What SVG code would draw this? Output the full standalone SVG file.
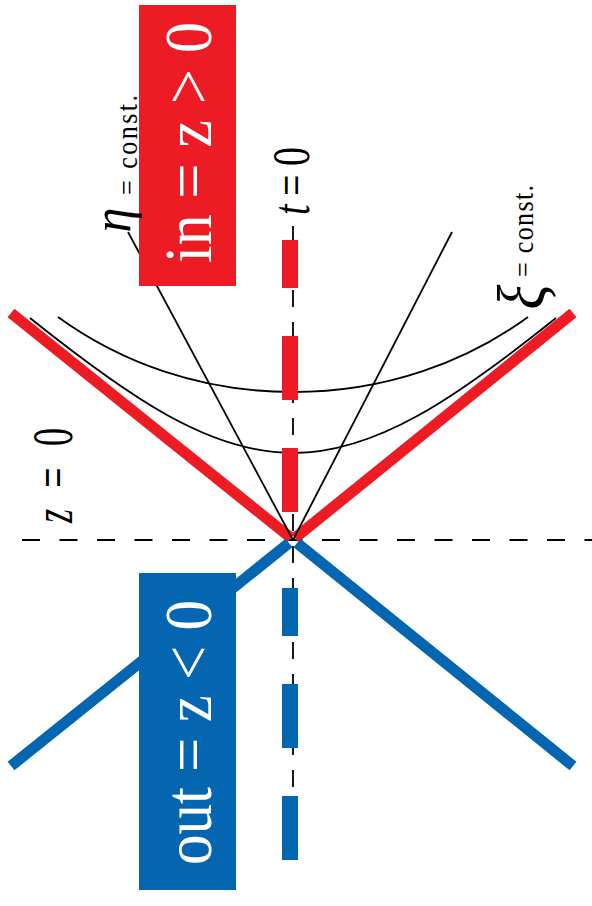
<svg xmlns="http://www.w3.org/2000/svg" width="592" height="906" viewBox="0 0 592 906">
  <style>
    .thin { stroke: #000; stroke-width: 1.8; fill: none; }
    .dash { stroke: #000; stroke-width: 1.8; fill: none; }
    .cone { stroke-width: 11; fill: none; stroke-linecap: butt; }
    .red { stroke: #ED1C24; }
    .blue { stroke: #0466B1; }
    .redf { fill: #ED1C24; }
    .bluef { fill: #0466B1; }
    .box-text { fill: #fff; font-size: 63px; }
    .lbl { fill: #000; }
  </style>
  <rect width="592" height="906" fill="#fff"/>

  <g id="connectors">
    <line class="dash" x1="22" y1="540" x2="592" y2="540" stroke-dasharray="18 19.5"/>
    <line class="dash" x1="293" y1="226" x2="293" y2="862" stroke-dasharray="17 15"/>
    <path class="thin" d="M58,317 C120,362 200,392 293,392 C386,392 466,362 528,317"/>
    <path class="thin" d="M30,318 C130,398 210,453 293,453 C376,453 456,398 556,318"/>
    <line class="cone red" x1="11" y1="313" x2="291" y2="538"/>
    <line class="cone red" x1="573" y1="313" x2="295" y2="538"/>
    <line class="cone blue" x1="11" y1="766" x2="289" y2="543"/>
    <line class="cone blue" x1="573" y1="766" x2="297" y2="543"/>
    <rect class="redf" x="282" y="240" width="16" height="48"/>
    <rect class="redf" x="282" y="336" width="16" height="64"/>
    <rect class="redf" x="282" y="448" width="16" height="64"/>
    <rect class="bluef" x="282" y="588" width="16" height="48"/>
    <rect class="bluef" x="282" y="684" width="16" height="64"/>
    <rect class="bluef" x="282" y="796" width="16" height="64"/>
    <line class="thin" x1="128" y1="232" x2="293" y2="540"/>
    <line class="thin" x1="452" y1="232" x2="293" y2="540"/>
  </g>

  <g font-family="Liberation Serif, serif">
    <g id="in-region">
      <rect class="redf" x="139" y="5" width="97" height="281"/>
      <text class="box-text" font-family="Liberation Serif" text-anchor="middle" transform="translate(211,142.5) rotate(-90) scale(1,1.06)" textLength="241" lengthAdjust="spacingAndGlyphs">in = z &gt; 0</text>
    </g>

    <g id="out-region">
      <rect class="bluef" x="139" y="573" width="97" height="317"/>
      <text class="box-text" font-family="Liberation Serif" text-anchor="middle" transform="translate(211,732.5) rotate(-90) scale(1,1.06)" textLength="265" lengthAdjust="spacingAndGlyphs">out = z &lt; 0</text>
    </g>

    <g id="eta-label">
      <text class="lbl" font-size="50" font-style="italic" text-anchor="middle" transform="translate(130,220) rotate(-90) scale(1,1.1)">η</text>
      <text class="lbl" font-size="26" text-anchor="middle" transform="translate(137,145) rotate(-90) scale(1,1.15)" textLength="100" lengthAdjust="spacing">= const.</text>
    </g>

    <g id="xi-label">
      <text class="lbl" font-size="58" font-style="italic" text-anchor="middle" transform="translate(545,297) rotate(-90) scale(1,1.15)">ξ</text>
      <text class="lbl" font-size="26" text-anchor="middle" transform="translate(533,231) rotate(-90) scale(1,1.15)" textLength="92" lengthAdjust="spacing">= const.</text>
    </g>

    <g id="t0-label">
      <text class="lbl" font-size="38" text-anchor="middle" transform="translate(309,181) rotate(-90) scale(1,1.4)" textLength="68" lengthAdjust="spacing"><tspan font-style="italic">t</tspan> = 0</text>
    </g>

    <g id="z0-label">
      <text class="lbl" font-size="36" text-anchor="middle" transform="translate(72,475.5) rotate(-90) scale(1,1.6)" textLength="95" lengthAdjust="spacing"><tspan font-style="italic">z</tspan> = 0</text>
    </g>
  </g>
</svg>
